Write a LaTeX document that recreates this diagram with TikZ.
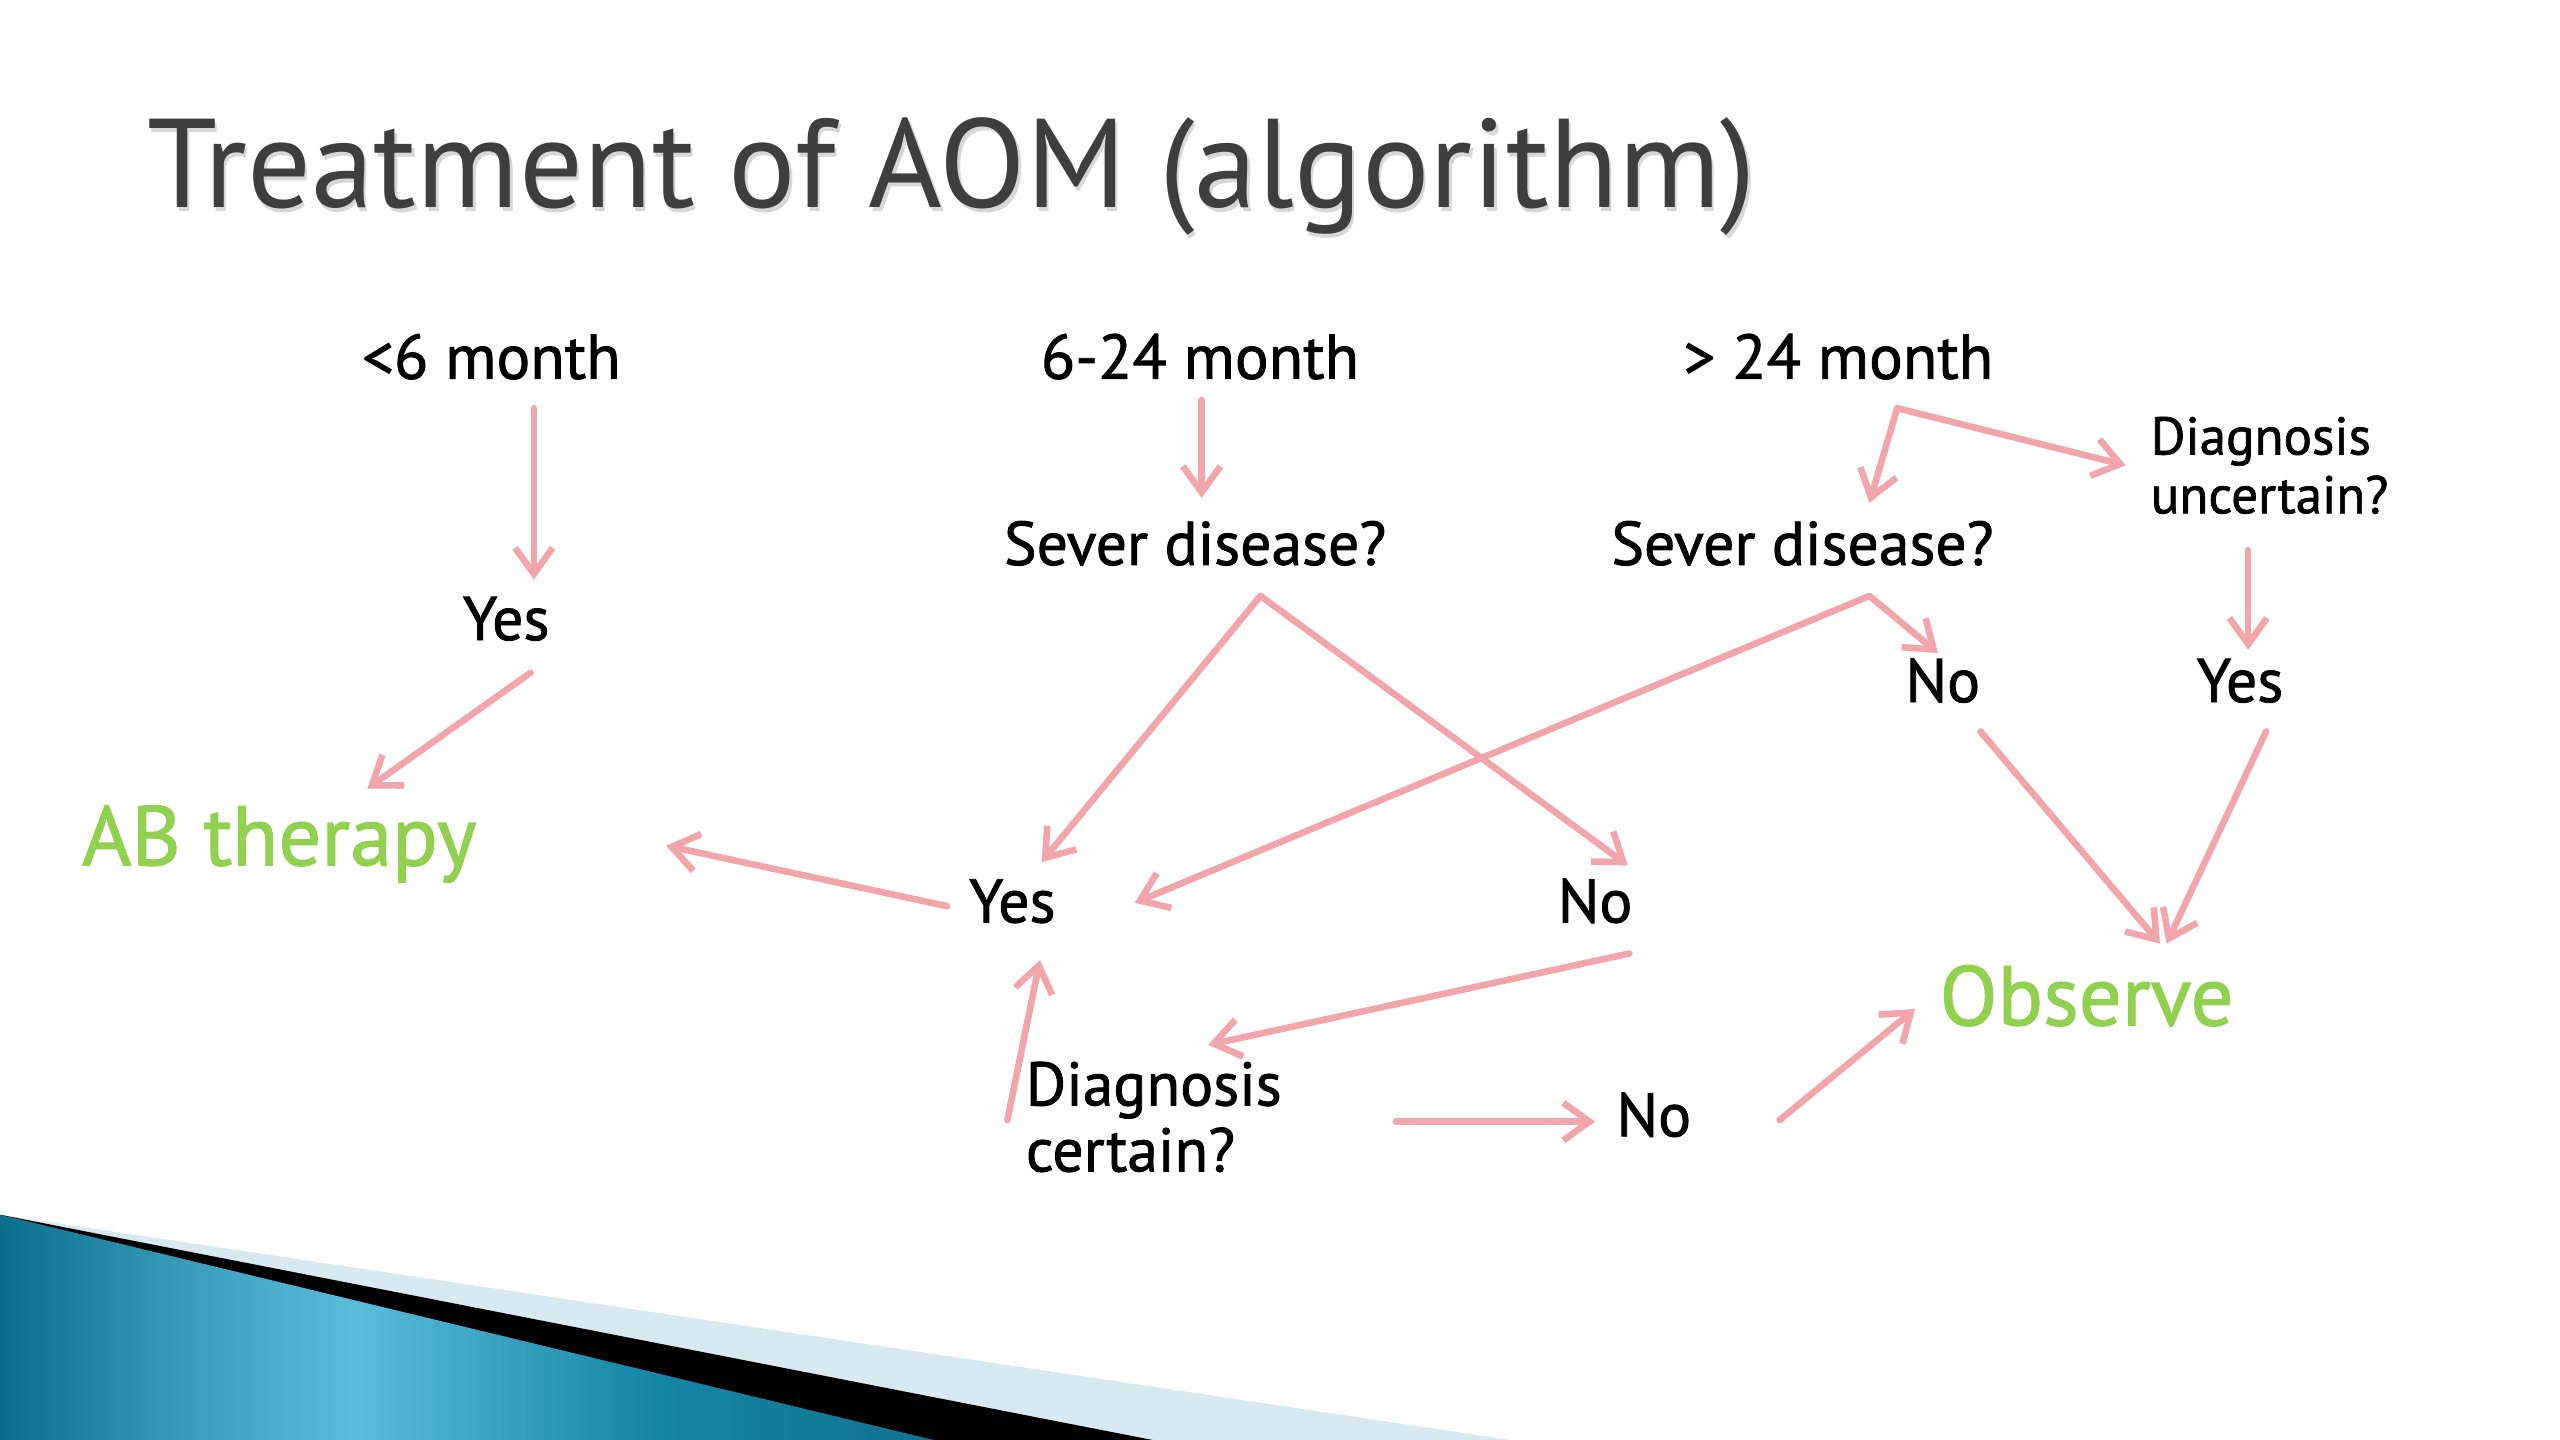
\documentclass[tikz,border=0pt]{standalone}
\usepackage{fontspec}
\setmainfont{PT Sans}
\newfontfamily\heavy{PT Sans}[FakeBold=1.3]
\usetikzlibrary{arrows.meta,calc}
\definecolor{pinkline}{RGB}{242,166,172}
\definecolor{okgreen}{RGB}{146,208,80}
\definecolor{titlegray}{RGB}{62,62,62}
\definecolor{shadowgray}{RGB}{215,215,215}
\definecolor{tealdark}{RGB}{8,110,138}
\definecolor{teallight}{RGB}{90,188,216}
\definecolor{tealmid}{RGB}{20,134,166}
\definecolor{paleblue}{RGB}{216,233,241}
\pgfdeclarehorizontalshading{tealsh}{100bp}{color(0bp)=(tealdark); color(25bp)=(tealdark); color(34bp)=(tealdark!45!teallight); color(44bp)=(teallight); color(60bp)=(tealmid); color(75bp)=(tealmid!85!black); color(100bp)=(tealmid!85!black)}
\begin{document}
\begin{tikzpicture}[x=0.02cm,y=-0.02cm,
  >={Straight Barb[length=0.32cm,width=0.46cm]},
  arr/.style={draw=pinkline,line width=2.3pt,line cap=round,line join=round},
  lbl/.style={anchor=base,inner sep=0pt,font=\heavy\fontsize{21.5}{25}\selectfont},
  month/.style={anchor=base,inner sep=0pt,font=\heavy\fontsize{22}{25}\selectfont},
  small/.style={anchor=north west,inner sep=0pt,align=left,font=\heavy\fontsize{18.5}{20.5}\selectfont},
  multi/.style={anchor=north west,inner sep=0pt,align=left,font=\heavy\fontsize{21.5}{23}\selectfont},
  big/.style={anchor=base,inner sep=0pt,text=okgreen,font=\heavy\fontsize{29.5}{32}\selectfont}]
\path[use as bounding box,fill=white] (0,0) rectangle (1568,882);
% bottom decoration
\fill[paleblue] (0,744) -- (925,882) -- (0,882) -- cycle;
\fill[black] (0,744) -- (706,882) -- (0,882) -- cycle;
\shade[shading=tealsh] (0,744) -- (572,882) -- (0,882) -- cycle;
% title
\node[anchor=base west,inner sep=0pt,text=shadowgray,font=\fontsize{44}{50}\selectfont] at (91.5,129.5) {Treatment of AOM (algorithm)};
\node[anchor=base west,inner sep=0pt,text=titlegray,font=\fontsize{44}{50}\selectfont] (title) at (90,127) {Treatment of AOM (algorithm)};
% nodes
\node[month] (m6) at (301,232) {<6 month};
\node[month] (m624) at (735,232) {6-24 month};
\node[month] (m24) at (1126,232) {> 24 month};
\node[small] (du) at (1317,255) {Diagnosis\\uncertain?};
\node[lbl] (sev1) at (732,346) {Sever disease?};
\node[lbl] (sev2) at (1104,346) {Sever disease?};
\node[lbl] (yes1) at (310,392) {Yes};
\node[lbl] (no1) at (1190,430) {No};
\node[lbl] (yes3) at (1372,430) {Yes};
\node[big] (ab) at (171,530) {AB therapy};
\node[lbl] (yes2) at (620,565) {Yes};
\node[lbl] (no2) at (977,565) {No};
\node[big] (obs) at (1278,628) {Observe};
\node[multi] (dc) at (628,650) {Diagnosis\\certain?};
\node[lbl] (no3) at (1013,696) {No};
% junctions
\coordinate (j1) at ($(sev1.base)+(40,19)$);
\coordinate (j2) at ($(m24.base)+(36,18)$);
\coordinate (j3) at ($(sev2.base)+(41,19)$);
% connectors
\draw[arr,->] ($(m6.base)+(26,18)$) -- ($(yes1.base)+(17,-37)$);
\draw[arr,->] ($(yes1.base)+(15,20)$) -- ($(ab.base)+(54,-47)$);
\draw[arr,->] ($(m624.base)+(1,13)$) -- ($(sev1.base)+(4,-41)$);
\draw[arr,<->] ($(yes2.base)+(18,-37)$) -- (j1) -- ($(no2.base)+(20,-35)$);
\draw[arr,<->] ($(sev2.base)+(41,-38)$) -- (j2) -- ($(du.north west)+(-15,30)$);
\draw[arr,->] ($(du.north west)+(60,82)$) -- ($(yes3.base)+(5,-32)$);
\draw[arr,<->] ($(yes2.base)+(75,-12)$) -- (j3) -- ($(no1.base)+(-3,-30)$);
\draw[arr,->] ($(no1.base)+(23,18)$) -- ($(obs.base)+(45,-50)$);
\draw[arr,->] ($(yes3.base)+(16,18)$) -- ($(obs.base)+(49,-50)$);
\draw[arr,->] ($(yes2.base)+(-40,-10)$) -- ($(ab.base)+(237,-12)$);
\draw[arr,->] ($(no2.base)+(21,19)$) -- ($(dc.north west)+(112,-10)$);
\draw[arr,->] ($(dc.north west)+(-11,36)$) -- ($(yes2.base)+(17,23)$);
\draw[arr,->] ($(dc.north west)+(227,37)$) -- ($(no3.base)+(-36,-9)$);
\draw[arr,->] ($(no3.base)+(77,-10)$) -- ($(obs.base)+(-105,-10)$);
\end{tikzpicture}
\end{document}
